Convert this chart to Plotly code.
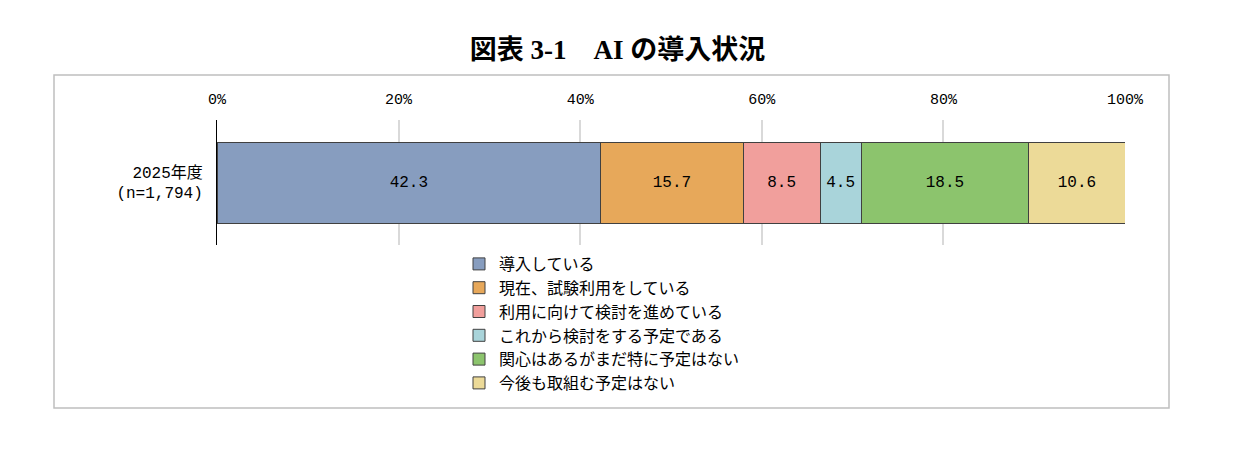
import plotly.graph_objects as go

categories = ["2025年度<br>(n=1,794)"]
series_names = ["導入している", "現在、試験利用をしている", "利用に向けて検討を進めている",
                "これから検討をする予定である", "関心はあるがまだ特に予定はない", "今後も取組む予定はない"]
series_values = [42.3, 15.7, 8.5, 4.5, 18.5, 10.6]
colors = ["#879DBF", "#E7A85A", "#F19F9C", "#A9D4DA", "#8CC46D", "#ECDA98"]
tick_vals = [0, 20, 40, 60, 80, 100]
tick_text = ["0%", "20%", "40%", "60%", "80%", "100%"]

W, H = 1250, 449
def px(x): return x / W
def py(y): return 1 - y / H

total = sum(series_values)  # 100% stacked: shares of the total

fig = go.Figure()
for name, v, c in zip(series_names, series_values, colors):
    fig.add_trace(go.Bar(
        name=name, y=categories, x=[v / total * 100], orientation="h",
        marker=dict(color=c, line=dict(color="#404040", width=1)),
        text=[f"{v:.1f}"], textposition="inside", insidetextanchor="middle",
        textfont=dict(family="Liberation Mono, Noto Sans CJK JP", size=16, color="black"),
        hovertemplate=f"{name}: {v:.1f}<extra></extra>",
    ))

fig.update_layout(
    template="none",
    barmode="stack",
    width=W, height=H, autosize=False,
    margin=dict(l=0, r=0, t=0, b=0, pad=0),
    paper_bgcolor="white", plot_bgcolor="white",
    bargap=0.352,
    title=dict(text="<b>図表 3-1　AI の導入状況</b>", x=0.494, xanchor="center",
               y=py(50), yanchor="middle", automargin=False,
               font=dict(family="Liberation Serif, Noto Sans CJK JP", size=27, color="black")),
    xaxis=dict(domain=[px(217), px(1125)], range=[0, 100], side="top", automargin=False,
               tickvals=tick_vals, ticktext=tick_text, showgrid=True, gridcolor="#D9D9D9",
               gridwidth=1.5, zeroline=False, showline=False, ticks="",
               ticklabelstandoff=12,
               tickfont=dict(family="Liberation Mono, Noto Sans CJK JP", size=15, color="black")),
    yaxis=dict(domain=[py(245), py(120)], showline=True, linecolor="black", linewidth=1,
               automargin=False, ticks="", showgrid=False, ticklabelstandoff=10,
               tickfont=dict(family="Liberation Mono, Noto Sans CJK JP", size=16, color="black")),
    legend=dict(x=px(459), y=py(247), xanchor="left", yanchor="top", traceorder="normal",
                orientation="v", font=dict(family="Noto Sans CJK JP", size=16, color="black"),
                itemwidth=30, tracegroupgap=0, bgcolor="rgba(0,0,0,0)", borderwidth=0),
    uniformtext=dict(minsize=10, mode="show"),
    shapes=[dict(type="rect", xref="paper", yref="paper",
                 x0=px(54), x1=px(1169), y0=py(408), y1=py(75),
                 line=dict(color="#BFBFBF", width=1.5), fillcolor="rgba(0,0,0,0)", layer="below")],
)

fig.write_html(
    "out.html",
    config={"displayModeBar": False, "responsive": False},
    post_script="document.body.style.margin='0';document.body.style.overflow='hidden';",
)
